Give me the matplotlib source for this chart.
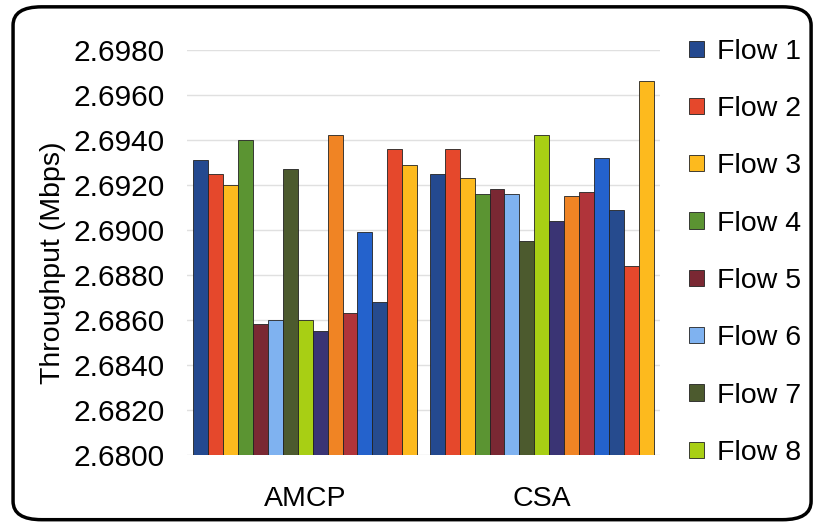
import matplotlib.pyplot as plt
import numpy as np
from matplotlib.patches import FancyBboxPatch

plt.rcParams['font.family'] = ['Liberation Sans', 'DejaVu Sans']

groups = ["AMCP", "CSA"]
flows = ["Flow %d" % i for i in range(1, 16)]
amcp = [2.6931, 2.6925, 2.6920, 2.6940, 2.6858, 2.6860, 2.6927, 2.6860,
        2.6855, 2.6942, 2.6863, 2.6899, 2.6868, 2.6936, 2.6929]
csa = [2.6925, 2.6936, 2.6923, 2.6916, 2.6918, 2.6916, 2.6895, 2.6942,
       2.6904, 2.6915, 2.6917, 2.6932, 2.6909, 2.6884, 2.6966]
colors = ["#24498F", "#E5482C", "#FDBA1E", "#5B9432", "#7A2833", "#7FB2F0",
          "#4C5A2E", "#A8CF14", "#3A3474", "#F08424", "#B0343A", "#2462CC",
          "#264B8E", "#E5482C", "#FDBA1E"]
n_legend = 8

fig = plt.figure(figsize=(8.16, 5.26), dpi=100)
ax = fig.add_axes([0.229, 0.135, 0.58, 0.77])

# rounded chart border
fig.patches.append(FancyBboxPatch((0.016, 0.012), 0.978, 0.975,
                                  boxstyle="round,pad=0,rounding_size=0.035",
                                  transform=fig.transFigure, fill=False,
                                  ec="black", lw=2.5, zorder=0))

base = 2.68
x = np.arange(len(groups))
gw = 0.947
w = gw / len(flows)
for i in range(len(flows)):
    vals = [amcp[i] - base, csa[i] - base]
    ax.bar(x - gw / 2 + w * (i + 0.5), vals, w, bottom=base, color=colors[i],
           edgecolor="#222222", linewidth=0.6,
           label=flows[i] if i < n_legend else None, zorder=3)

fs = 20.5
ax.set_ylim(2.68, 2.698)
ax.set_xlim(-0.5, 1.5)
ax.set_yticks(np.arange(2.68, 2.6981, 0.002))
ax.set_yticklabels(["%.4f" % v for v in np.arange(2.68, 2.6981, 0.002)])
ax.set_xticks(x)
ax.set_xticklabels(groups)
ax.tick_params(axis='x', labelsize=fs, length=0, pad=22)
ax.tick_params(axis='y', labelsize=21.5, length=0, pad=16)
ax.yaxis.grid(True, color="#e0e0e0", lw=1, zorder=0)
for s in ax.spines.values():
    s.set_visible(False)
ax.set_ylabel("Throughput (Mbps)", fontsize=fs)
ax.yaxis.set_label_coords(-0.255, 0.474)

leg = ax.legend(loc="upper left", bbox_to_anchor=(0.831, 0.948),
                bbox_transform=fig.transFigure, frameon=False,
                fontsize=fs, handlelength=0.5, handleheight=0.5,
                handletextpad=0.45, labelspacing=1.1, borderaxespad=0)

fig.savefig("out.png", dpi=100, facecolor="white")
